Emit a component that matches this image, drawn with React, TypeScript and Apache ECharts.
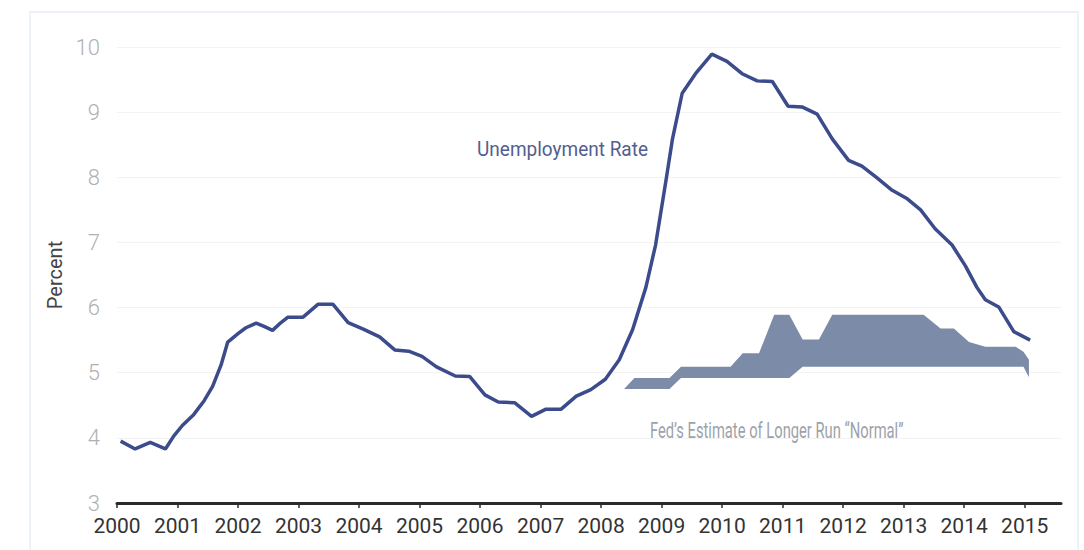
import React, { useEffect, useRef } from "react";
import * as echarts from "echarts";

const years = [2000, 2001, 2002, 2003, 2004, 2005, 2006, 2007, 2008, 2009, 2010, 2011, 2012, 2013, 2014, 2015];

const unempX = [
  2000.06, 2000.3, 2000.55, 2000.8, 2000.94, 2001.08, 2001.27, 2001.44, 2001.58, 2001.72, 2001.83,
  2002.0, 2002.13, 2002.3, 2002.43, 2002.57, 2002.71, 2002.82, 2003.07, 2003.32, 2003.57, 2003.82,
  2004.07, 2004.34, 2004.59, 2004.82, 2005.04, 2005.28, 2005.59, 2005.83, 2006.08, 2006.3, 2006.57,
  2006.85, 2007.09, 2007.34, 2007.59, 2007.83, 2008.07, 2008.3, 2008.52, 2008.74, 2008.9, 2009.07,
  2009.18, 2009.34, 2009.56, 2009.83, 2010.08, 2010.33, 2010.58, 2010.83, 2011.09, 2011.32, 2011.57,
  2011.82, 2012.09, 2012.31, 2012.56, 2012.81, 2013.06, 2013.28, 2013.52, 2013.8, 2014.02, 2014.21,
  2014.35, 2014.57, 2014.82, 2015.09,
];
const unempY = [
  3.95, 3.83, 3.93, 3.83, 4.03, 4.19, 4.36, 4.57, 4.79, 5.12, 5.47,
  5.6, 5.69, 5.76, 5.71, 5.65, 5.77, 5.85, 5.85, 6.05, 6.05, 5.77,
  5.67, 5.55, 5.35, 5.33, 5.25, 5.09, 4.95, 4.94, 4.66, 4.55, 4.54,
  4.33, 4.44, 4.44, 4.64, 4.74, 4.9, 5.2, 5.66, 6.31, 6.96, 7.94,
  8.59, 9.29, 9.59, 9.89, 9.78, 9.59, 9.48, 9.47, 9.09, 9.08, 8.97,
  8.59, 8.26, 8.17, 7.99, 7.8, 7.67, 7.5, 7.21, 6.96, 6.64, 6.31,
  6.12, 6.01, 5.63, 5.5,
];

const bandX = [
  2008.38, 2008.55, 2009.13, 2009.32, 2010.14, 2010.34, 2010.61, 2010.86, 2011.11, 2011.33,
  2011.6, 2011.82, 2013.33, 2013.61, 2013.83, 2014.08, 2014.35, 2014.85, 2014.98, 2015.07,
];
const bandLow = [
  4.75, 4.75, 4.75, 4.92, 4.92, 4.92, 4.92, 4.92, 4.92, 5.09,
  5.09, 5.09, 5.09, 5.09, 5.09, 5.09, 5.09, 5.09, 5.09, 4.93,
];
const bandHigh = [
  4.75, 4.92, 4.92, 5.09, 5.09, 5.3, 5.3, 5.89, 5.89, 5.51,
  5.51, 5.89, 5.89, 5.68, 5.68, 5.47, 5.4, 5.4, 5.32, 5.2,
];

const lineLabel = "Unemployment Rate";
const bandLabel = "Fed\u2019s Estimate of Longer Run \u201CNormal\u201D";

export default function App() {
  const ref = useRef<HTMLDivElement>(null);
  useEffect(() => {
    document.body.style.margin = "0";
    const chart = echarts.init(ref.current!, null, { renderer: "svg" });
    const font = "Roboto, 'Liberation Sans Narrow', sans-serif";
    chart.setOption({
      animation: false,
      backgroundColor: "#ffffff",
      grid: { left: 117, right: 23, top: 47, bottom: 47 },
      xAxis: {
        type: "value",
        min: 2000,
        max: 2015.6,
        interval: 1,
        axisLine: { lineStyle: { color: "#2a2a2a", width: 3 } },
        axisTick: { show: true, length: 5, customValues: years, lineStyle: { color: "#2a2a2a", width: 1.5 } },
        axisLabel: {
          customValues: years,
          color: "#333333",
          fontSize: 21,
          fontFamily: font,
          margin: 12,
          formatter: (v: number) => String(Math.round(v)),
        },
        splitLine: { show: false },
      },
      yAxis: {
        type: "value",
        min: 3,
        max: 10,
        interval: 1,
        name: "Percent",
        nameLocation: "middle",
        nameRotate: 90,
        nameGap: 47,
        nameTextStyle: { color: "#444444", fontSize: 20, fontFamily: font },
        axisLine: { show: false },
        axisTick: { show: false },
        axisLabel: { color: "#b0b0b0", fontSize: 22, fontFamily: font, fontWeight: 300, margin: 17 },
        splitLine: { lineStyle: { color: "#f3f3f3", width: 1 } },
      },
      series: [
        {
          type: "custom",
          silent: true,
          data: bandX.map((x, i) => [x, bandLow[i], bandHigh[i]]),
          encode: { x: 0, y: [1, 2] },
          renderItem: (params: any, api: any) => {
            if (params.dataIndex !== 0) return null;
            const pts: number[][] = [];
            for (let j = 0; j < bandX.length; j++) pts.push(api.coord([bandX[j], bandHigh[j]]));
            for (let j = bandX.length - 1; j >= 0; j--) pts.push(api.coord([bandX[j], bandLow[j]]));
            return {
              type: "polygon",
              shape: { points: pts },
              style: { fill: "#7c8ca8" },
            };
          },
          z: 2,
        },
        {
          type: "line",
          data: unempX.map((x, i) => [x, unempY[i]]),
          symbol: "none",
          lineStyle: { color: "#3b4b8b", width: 3.5 },
          z: 5,
        },
      ],
      graphic: [
        {
          type: "rect",
          shape: { x: 30, y: 12, width: 1048, height: 545 },
          style: { fill: "none", stroke: "#edf2f8", lineWidth: 2 },
          silent: true,
          z: -10,
        },
        {
          type: "text",
          x: 477,
          y: 139,
          scaleX: 0.95,
          style: { text: lineLabel, fill: "#52608f", fontSize: 20, fontFamily: font },
        },
        {
          type: "text",
          x: 650,
          y: 420,
          scaleX: 0.67,
          style: { text: bandLabel, fill: "#9da2aa", fontSize: 22, fontFamily: font },
        },
      ],
    });
    return () => chart.dispose();
  }, []);
  return <div ref={ref} style={{ width: 1084, height: 550 }} />;
}
